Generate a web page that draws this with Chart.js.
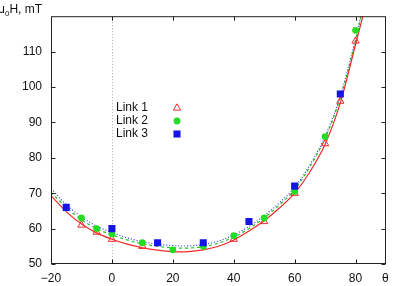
<!DOCTYPE html>
<html><head><meta charset="utf-8">
<script src="https://cdn.jsdelivr.net/npm/chart.js@4.4.1/dist/chart.umd.min.js"></script>
<style>
html,body{margin:0;padding:0;background:#fff;overflow:hidden}
#wrap{position:relative;width:394px;height:286px}
canvas{display:block}
.lbl{position:absolute;font-family:'Liberation Sans',Arial,sans-serif;font-size:12px;line-height:12px;color:#111;white-space:nowrap}
</style></head><body>
<div id="wrap"><canvas id="c" width="394" height="286"></canvas>
<div class="lbl" style="left:-2px;top:3px">μ<span style="font-size:8px;position:relative;top:3px">0</span>H, mT</div>
<div class="lbl" style="left:382px;top:272px">θ</div>
</div>
<script>
// ---- data ----
const xTickValues = [-20, 0, 20, 40, 60, 80];
const yTickValues = [50, 60, 70, 80, 90, 100, 110];
const seriesNames = ['Link 1', 'Link 2', 'Link 3'];

const link1X = [-10, -5, 0, 10, 40, 50, 60, 70, 75, 80];
const link1Y = [61, 59, 57, 55, 57, 62, 70, 84, 96, 113];
const link2X = [-10, -5, 0, 10, 20, 30, 40, 50, 60, 70, 80];
const link2Y = [63, 60, 58.5, 56, 54, 55, 58, 63, 70.5, 86, 116];
const link3X = [-15, 0, 15, 30, 45, 60, 75];
const link3Y = [66, 60, 56, 56, 62, 72, 98];

const fit1X = [-20, -15, -10, -5, 0, 5, 10, 15, 20, 25, 30, 35, 40, 45, 50, 55, 60, 65, 70, 75, 80, 82.4];
const fit1Y = [69.3, 64.8, 61.3, 58.8, 57.0, 55.6, 54.6, 53.9, 53.5, 53.5, 54.0, 55.0, 56.8, 59.3, 62.2, 65.8, 70.0, 76.0, 83.8, 95.5, 112.0, 120];
const fit2X = [-20, -15, -10, -5, 0, 5, 10, 15, 20, 25, 30, 35, 40, 45, 50, 55, 60, 65, 70, 75, 80, 81.8];
const fit2Y = [70.3, 66.0, 62.5, 60.0, 58.2, 56.8, 55.7, 55.0, 54.6, 54.5, 54.9, 55.9, 57.6, 60.0, 63.0, 66.7, 71.0, 77.5, 85.5, 97.0, 113.0, 120];
const fit3X = [-20, -15, -10, -5, 0, 5, 10, 15, 20, 25, 30, 35, 40, 45, 50, 55, 60, 65, 70, 75, 80, 81.7];
const fit3Y = [71.3, 66.8, 63.3, 60.7, 58.9, 57.4, 56.3, 55.6, 55.2, 55.1, 55.5, 56.5, 58.2, 60.6, 63.6, 67.3, 71.6, 78.0, 86.0, 97.5, 113.5, 120];

// ---- styles ----
const RED = '#ee2a2a', GREEN = '#22dd22', BLUE = '#1414e6';
const FONT = {family: "'Liberation Sans', Arial, sans-serif", size: 12};
const pts = (xs, ys) => xs.map((x, i) => ({x: x, y: ys[i]}));

const frame = {
  id: 'frame',
  beforeDatasetsDraw(chart) {
    const {ctx, chartArea: a, scales: {x}} = chart;
    const zx = Math.round(x.getPixelForValue(0)) + 0.5;
    ctx.save();
    ctx.strokeStyle = '#aaaaaa'; ctx.lineWidth = 1; ctx.setLineDash([1, 2]);
    ctx.beginPath(); ctx.moveTo(zx, a.top); ctx.lineTo(zx, a.bottom); ctx.stroke();
    ctx.restore();
  },
  afterDraw(chart) {
    const {ctx, chartArea: a, scales: {x, y}} = chart;
    const L = a.left + 0.5, R = a.right - 0.5, T = a.top + 0.5, B = a.bottom - 0.5;
    ctx.save();
    ctx.strokeStyle = '#222'; ctx.lineWidth = 1; ctx.setLineDash([]);
    ctx.strokeRect(L, T, R - L, B - T);
    ctx.beginPath();
    const tl = 4;
    xTickValues.forEach(v => {
      const px = Math.round(x.getPixelForValue(v)) + 0.5;
      ctx.moveTo(px, B); ctx.lineTo(px, B - tl);
      ctx.moveTo(px, T); ctx.lineTo(px, T + tl);
    });
    yTickValues.forEach(v => {
      const py = Math.round(y.getPixelForValue(v)) + 0.5;
      ctx.moveTo(L, py); ctx.lineTo(L + tl, py);
      ctx.moveTo(R, py); ctx.lineTo(R - tl, py);
    });
    ctx.stroke();
    ctx.restore();
  }
};

const keyBox = {
  id: 'keyBox',
  afterDatasetsDraw(chart) {
    const {ctx} = chart;
    const ds = chart.data.datasets.filter(d => d.isKey);
    ctx.save();
    ctx.font = "12px 'Liberation Sans', Arial, sans-serif";
    ctx.textBaseline = 'middle'; ctx.textAlign = 'left'; ctx.fillStyle = '#111';
    ds.sort((a, b) => seriesNames.indexOf(a.label) - seriesNames.indexOf(b.label)).forEach((d, i) => {
      const yy = 108 + i * 13;
      ctx.fillText(d.label, 116, yy);
      ctx.fillStyle = d.backgroundColor; ctx.strokeStyle = d.borderColor; ctx.lineWidth = d.borderWidth;
      Chart.helpers.drawPoint(ctx, {pointStyle: d.pointStyle, radius: d.pointRadius, rotation: 0, borderWidth: d.borderWidth}, 177, yy);
      ctx.fillStyle = '#111';
    });
    ctx.restore();
  }
};

new Chart(document.getElementById('c'), {
  type: 'scatter',
  data: {
    datasets: [
      {label: seriesNames[2], isKey: true, data: pts(link3X, link3Y), pointStyle: 'rect', pointRadius: 5, backgroundColor: BLUE, borderColor: BLUE, borderWidth: 0, order: 0},
      {label: seriesNames[1], isKey: true, data: pts(link2X, link2Y), pointStyle: 'circle', pointRadius: 3.4, backgroundColor: GREEN, borderColor: GREEN, borderWidth: 0, order: 1},
      {label: seriesNames[0], isKey: true, data: pts(link1X, link1Y), pointStyle: 'triangle', pointRadius: 4.2, backgroundColor: 'rgba(0,0,0,0)', borderColor: RED, borderWidth: 1, order: 2},
      {label: 'fit 1', data: pts(fit1X, fit1Y), showLine: true, pointRadius: 0, borderColor: RED, borderWidth: 1.2, tension: 0.35, order: 3},
      {label: 'fit 2', data: pts(fit2X, fit2Y), showLine: true, pointRadius: 0, borderColor: '#22c022', borderWidth: 1.2, borderDash: [3, 3], tension: 0.35, order: 4},
      {label: 'fit 3', data: pts(fit3X, fit3Y), showLine: true, pointRadius: 0, borderColor: '#2a3ee0', borderWidth: 1.2, borderDash: [1, 2], tension: 0.35, order: 5}
    ]
  },
  options: {
    responsive: false, animation: false, devicePixelRatio: 1,
    layout: {padding: {left: 0, right: 8, top: 11, bottom: 0}},
    plugins: {legend: {display: false}, tooltip: {enabled: false}},
    scales: {
      x: {
        type: 'linear', min: -20, max: 90,
        afterBuildTicks: s => { s.ticks = xTickValues.map(v => ({value: v})); },
        afterFit: s => { s.height = 22; },
        grid: {display: false, drawTicks: false}, border: {display: false},
        ticks: {font: FONT, color: '#111', padding: 7, maxRotation: 0,
          callback: v => (v < 0 ? '\u2212' + Math.abs(v) : String(v))}
      },
      y: {
        type: 'linear', min: 50, max: 120,
        afterBuildTicks: s => { s.ticks = yTickValues.map(v => ({value: v})); },
        afterFit: s => { s.width = 51; },
        grid: {display: false, drawTicks: false}, border: {display: false},
        ticks: {font: FONT, color: '#111', padding: 9}
      }
    }
  },
  plugins: [frame, keyBox]
});
</script>
</body></html>
